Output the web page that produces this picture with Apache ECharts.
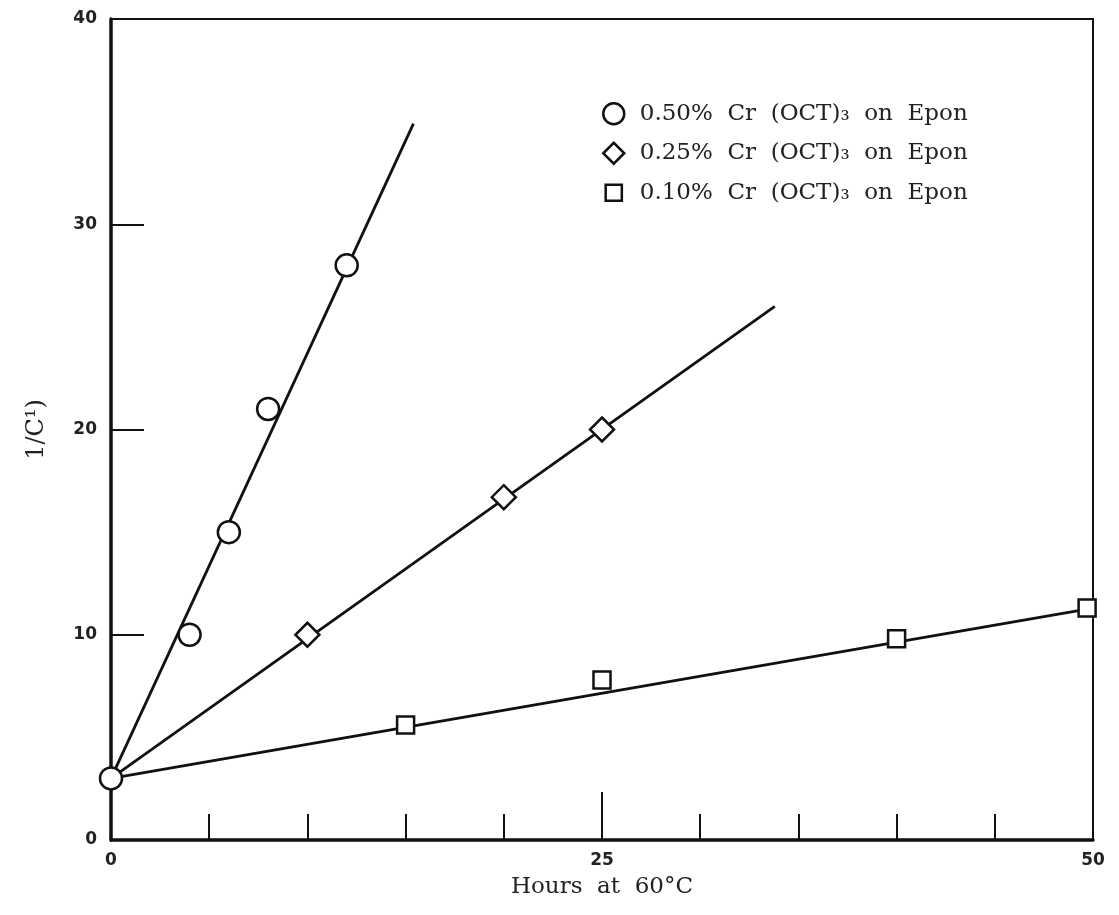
<!DOCTYPE html>
<html>
<head>
<meta charset="utf-8">
<title>1/C vs hours at 60°C</title>
<script src="https://cdn.jsdelivr.net/npm/echarts@6/dist/echarts.min.js"></script>
<style>
  html, body { margin: 0; padding: 0; background: #fff; }
  #chart { width: 1119px; height: 915px; }
</style>
</head>
<body>
<div id="chart"></div>
<script>
// measured points (hours, 1/C)
var names = [
  "0.50%  Cr  (OCT)\u2083  on  Epon",
  "0.25%  Cr  (OCT)\u2083  on  Epon",
  "0.10%  Cr  (OCT)\u2083  on  Epon"
];
var pts050 = [[0, 3], [4, 10], [6, 15], [8, 21], [12, 28]];
var pts025 = [[10, 10], [20, 16.7], [25, 20]];
var pts010 = [[15, 5.6], [25, 7.8], [40, 9.8], [49.7, 11.3]];

// fitted straight lines, start and end
var fit050 = [[0, 3], [15.4, 34.9]];
var fit025 = [[0, 3], [33.8, 26.0]];
var fit010 = [[0, 3], [50, 11.3]];

var xLabels = [0, 25, 50];

var ink = "#111";
var diamond = "path://M0,-1 L1,0 L0,1 L-1,0 Z";
// square with some empty room round it, so the legend box comes out smaller
var smallSquare = "path://M-1.3,-1.3 M1.3,1.3 M-1,-1 L1,-1 L1,1 L-1,1 Z";

function fitLine(data) {
  return {
    type: "line",
    data: data,
    symbol: "none",
    silent: true,
    z: 1,
    lineStyle: { color: ink, width: 2.8 }
  };
}

function points(name, data, symbol, size) {
  return {
    name: name,
    type: "scatter",
    data: data,
    symbol: symbol,
    symbolSize: size,
    z: 3,
    itemStyle: { color: "#fff", borderColor: ink, borderWidth: 2.5, opacity: 1 }
  };
}

var chart = echarts.init(document.getElementById("chart"));
chart.setOption({
  animation: false,
  backgroundColor: "#fff",
  grid: {
    left: 111,
    right: 26,
    top: 19,
    bottom: 75,
    show: true,
    borderColor: ink,
    borderWidth: 2
  },
  legend: {
    orient: "vertical",
    left: 597,
    top: 97,
    itemWidth: 22,
    itemHeight: 21,
    itemGap: 16,
    data: [
      { name: names[0], icon: "circle" },
      { name: names[1], icon: diamond },
      { name: names[2], icon: smallSquare }
    ],
    itemStyle: { color: "#fff", borderColor: ink, borderWidth: 2.5 },
    textStyle: {
      fontFamily: "DejaVu Serif",
      fontSize: 23,
      color: "#222",
      padding: [0, 0, 0, 10]
    }
  },
  xAxis: [
    {
      type: "value",
      position: "bottom",
      min: 0,
      max: 50,
      interval: 5,
      splitLine: { show: false },
      axisLine: { lineStyle: { color: ink, width: 3.5 } },
      axisTick: { inside: true, length: 26, lineStyle: { color: ink, width: 2 } },
      axisLabel: { show: false }
    },
    {
      type: "value",
      position: "bottom",
      min: 0,
      max: 50,
      interval: 25,
      splitLine: { show: false },
      axisLine: { show: false },
      axisTick: { inside: true, length: 48, lineStyle: { color: ink, width: 2 } },
      axisLabel: {
        margin: 12,
        fontFamily: "DejaVu Sans",
        fontWeight: "bold",
        fontSize: 17,
        color: "#222",
        formatter: function (v) {
          return xLabels.indexOf(v) >= 0 ? String(v) : "";
        }
      },
      name: "Hours  at  60°C",
      nameLocation: "middle",
      nameGap: 36,
      nameTextStyle: { fontFamily: "DejaVu Serif", fontSize: 23, color: "#222" }
    }
  ],
  yAxis: {
    type: "value",
    min: 0,
    max: 40,
    interval: 10,
    splitLine: { show: false },
    axisLine: { lineStyle: { color: ink, width: 3.5 } },
    axisTick: { inside: true, length: 33, lineStyle: { color: ink, width: 2 } },
    axisLabel: {
      margin: 14,
      fontFamily: "DejaVu Sans",
      fontWeight: "bold",
      fontSize: 17,
      color: "#222"
    },
    name: "1/C\u00b9)",
    nameLocation: "middle",
    nameGap: 62,
    nameTextStyle: { fontFamily: "DejaVu Serif", fontSize: 24, color: "#222" }
  },
  series: [
    fitLine(fit050),
    fitLine(fit025),
    fitLine(fit010),
    points(names[2], pts010, "rect", 17),
    points(names[1], pts025, diamond, 24),
    points(names[0], pts050, "circle", 22)
  ]
});
window.addEventListener("resize", function () {
  chart.resize();
});
</script>
</body>
</html>
